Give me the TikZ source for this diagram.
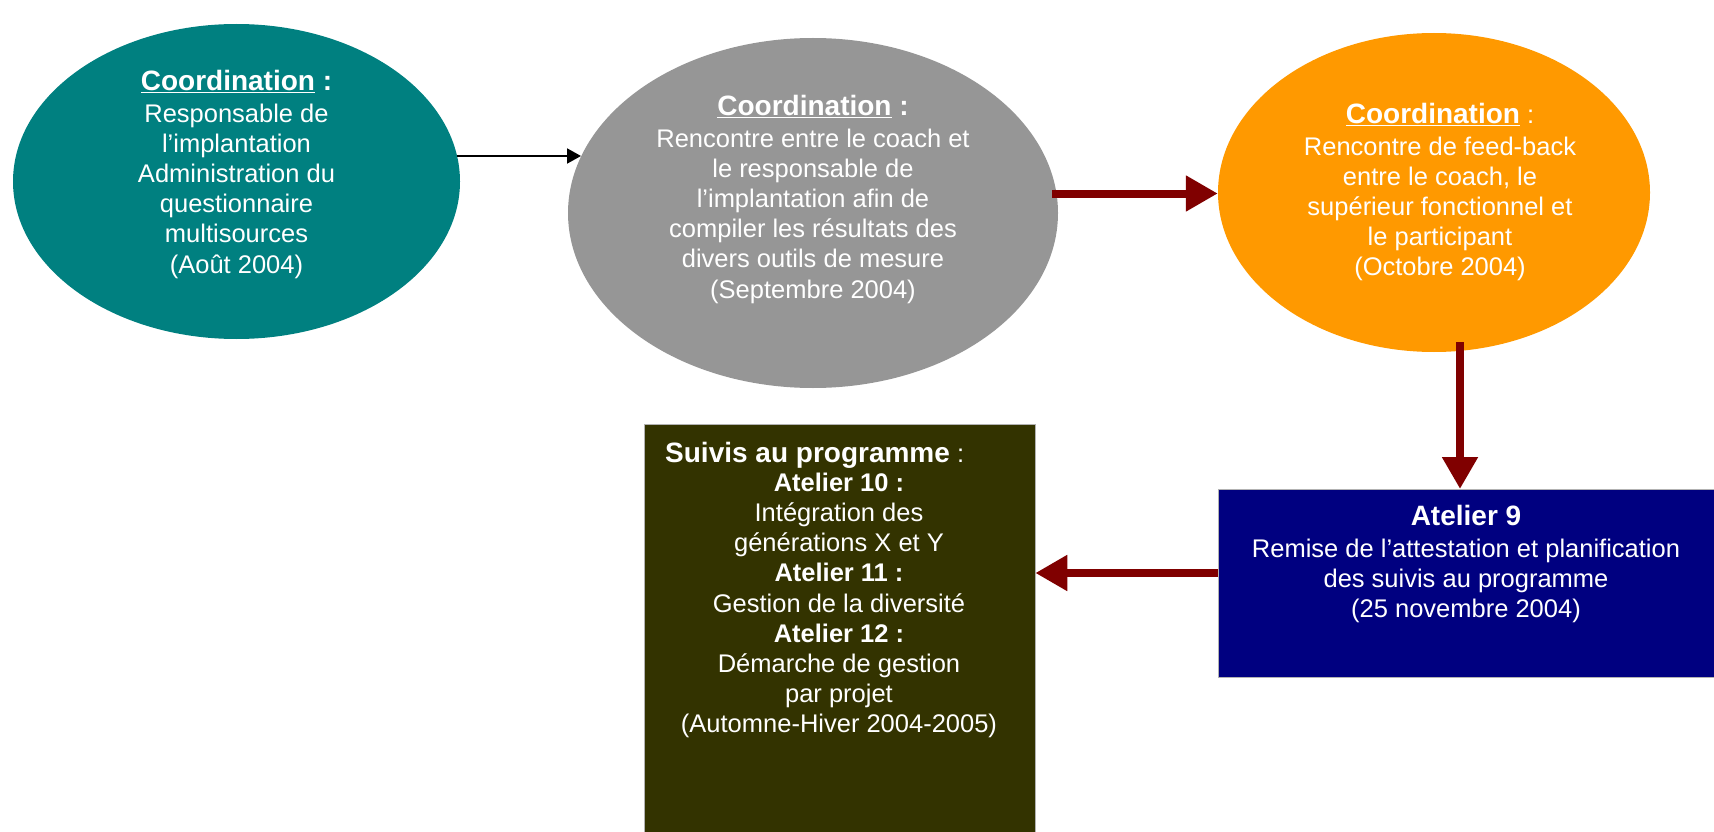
\documentclass[tikz,border=0pt]{standalone}
\usepackage{fontspec}
\setmainfont{Liberation Sans}
\usetikzlibrary{arrows.meta,shapes.geometric}
\definecolor{cteal}{HTML}{008080}
\definecolor{cgray}{HTML}{969696}
\definecolor{corange}{HTML}{FF9900}
\definecolor{colive}{HTML}{333300}
\definecolor{cnavy}{HTML}{000080}
\definecolor{cred}{HTML}{800000}
\newcommand{\hdf}{\fontsize{28}{33}\selectfont\bfseries}
\tikzset{
  x=1pt, y=-1pt,
  blob/.style={ellipse, inner sep=0pt, draw=none},
  boxx/.style={rectangle, inner sep=0pt, anchor=north west},
  txt/.style={text=white, align=center, inner sep=0pt, font=\fontsize{25.5}{30.1}\selectfont},
  blkarrow/.style={draw=black, line width=2pt, -{Triangle[length=14pt,width=15pt]}},
  redarrow/.style={draw=cred, line width=8pt, -{Triangle[length=32pt,width=34pt]}},
}
\begin{document}
\begin{tikzpicture}
\useasboundingbox (0,0) rectangle (1714,832);
% shapes
\node[blob, fill=cteal, minimum width=447pt, minimum height=315pt] (e1) at (236.5,181.5) {};
\node[blob, fill=cgray, minimum width=490pt, minimum height=350pt] (e2) at (813,213) {};
\node[blob, fill=corange, minimum width=432pt, minimum height=319pt] (e3) at (1434,192.5) {};
\node[boxx, fill=colive, draw=gray!60, line width=0.8pt, minimum width=391pt, minimum height=420pt] (b1) at (643.5,424) {};
\node[boxx, fill=cnavy, draw=gray!60, line width=0.8pt, minimum width=500pt, minimum height=188pt] (b2) at (1218,489) {};
% texts
\node[txt, anchor=north] (t1) at (236.5,70) {{\hdf\underline{Coordination} :}\\[2pt]
Responsable de\\ l’implantation\\ Administration du\\ questionnaire\\ multisources\\ (Août 2004)};
\node[txt, anchor=north] (t2) at (813,95) {{\hdf\underline{Coordination} :}\\[2pt]
Rencontre entre le coach et\\ le responsable de\\ l’implantation afin de\\ compiler les résultats des\\ divers outils de mesure\\ (Septembre 2004)};
\node[txt, anchor=north] (t3) at (1440,103) {{\hdf\underline{Coordination}} :\\[2pt]
Rencontre de feed-back\\ entre le coach, le\\ supérieur fonctionnel et\\ le participant\\ (Octobre 2004)};
\node[txt, anchor=north] (t4) at (1466,505) {{\hdf Atelier 9}\\[2pt]
Remise de l’attestation et planification\\ des suivis au programme\\ (25 novembre 2004)};
\node[txt, anchor=north west] (t5h) at (665,442) {{\hdf Suivis au programme} :};
\node[txt, anchor=north] (t5) at (839,473) {\textbf{Atelier 10 :}\\
Intégration des\\ générations X et Y\\ \textbf{Atelier 11 :}\\ Gestion de la diversité\\ \textbf{Atelier 12 :}\\ Démarche de gestion\\ par projet\\ (Automne-Hiver 2004-2005)};
% connectors
\coordinate (c1) at (457,156);
\coordinate (c2) at (581,156);
\draw[blkarrow] (c1) -- (c2);
\coordinate (c3) at (1052,193.5);
\draw[redarrow] (c3) -- (c3 -| e3.west);
\coordinate (c4) at (1460,342);
\draw[redarrow] (c4) -- (c4 |- b2.north);
\coordinate (c5) at (1218,573);
\draw[redarrow] (c5) -- (c5 -| b1.east);
\end{tikzpicture}
\end{document}
